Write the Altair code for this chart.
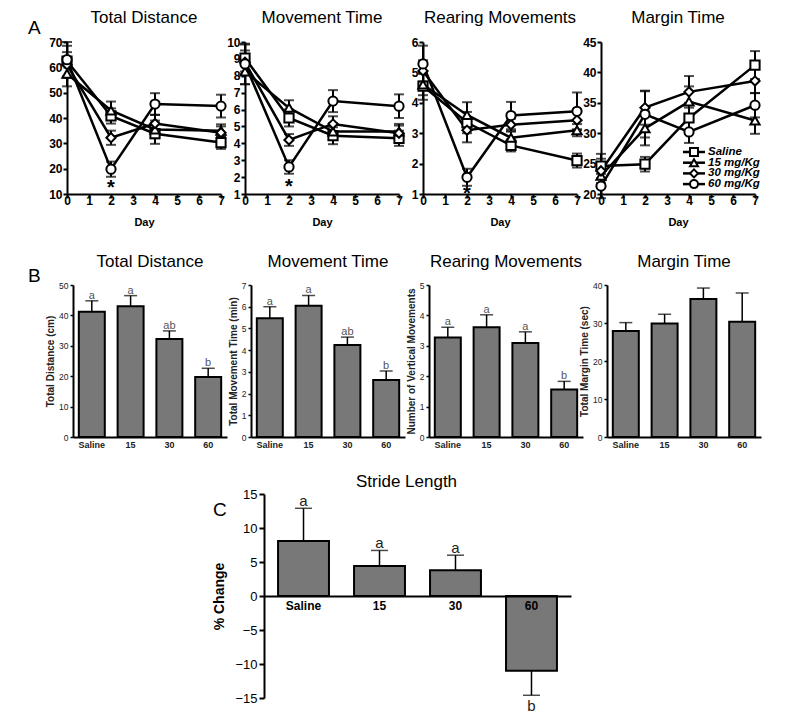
import altair as alt
import pandas as pd

FONT = "Liberation Sans, Arial, Helvetica, sans-serif"
BAR_FILL = "#787878"

# ---------------- Panel A data (mean and SEM by day) ----------------
days = [0, 2, 4, 7]
groups = ["Saline", "15 mg/Kg", "30 mg/Kg", "60 mg/Kg"]
group_shapes = ["square", "triangle-up", "diamond", "circle"]

td_saline = [62.5, 40.8, 33.8, 30.3]
td_15 = [57.5, 43.0, 35.5, 35.0]
td_30 = [61.0, 32.2, 37.8, 34.2]
td_60 = [63.0, 19.8, 45.5, 44.7]
td_sem_saline = [6.0, 3.0, 4.0, 2.5]
td_sem_15 = [5.0, 3.5, 3.5, 2.5]
td_sem_30 = [5.0, 2.8, 3.5, 2.5]
td_sem_60 = [7.0, 3.0, 4.3, 4.5]

mt_saline = [9.05, 5.5, 4.45, 4.3]
mt_15 = [8.25, 6.1, 4.7, 4.7]
mt_30 = [8.8, 4.2, 5.15, 4.6]
mt_60 = [8.7, 2.6, 6.5, 6.2]
mt_sem_saline = [0.8, 0.5, 0.5, 0.45]
mt_sem_15 = [0.75, 0.45, 0.5, 0.45]
mt_sem_30 = [0.7, 0.35, 0.45, 0.45]
mt_sem_60 = [1.2, 0.4, 0.65, 0.7]

rm_saline = [4.55, 3.35, 2.6, 2.1]
rm_15 = [4.6, 3.6, 2.85, 3.1]
rm_30 = [5.05, 3.1, 3.28, 3.43]
rm_60 = [5.28, 1.55, 3.58, 3.72]
rm_sem_saline = [0.45, 0.35, 0.2, 0.23]
rm_sem_15 = [0.35, 0.42, 0.2, 0.2]
rm_sem_30 = [0.35, 0.4, 0.2, 0.3]
rm_sem_60 = [0.6, 0.28, 0.45, 0.62]

mg_saline = [24.6, 24.9, 32.5, 41.2]
mg_15 = [23.0, 30.8, 35.2, 32.1]
mg_30 = [23.8, 34.2, 36.8, 38.6]
mg_60 = [21.3, 33.1, 30.2, 34.6]
mg_sem_saline = [2.0, 1.2, 2.5, 2.3]
mg_sem_15 = [2.0, 2.8, 2.5, 2.2]
mg_sem_30 = [2.0, 2.8, 2.6, 2.0]
mg_sem_60 = [2.0, 3.8, 1.8, 2.0]

star_day = [2]
td_star = [13.9]
mt_star = [1.67]
rm_star = [1.12]

# ---------------- Panel B data ----------------
doses = ["Saline", "15", "30", "60"]
b_td = [41.2, 43.0, 32.2, 19.7]
b_td_top = [44.8, 46.5, 34.9, 22.6]
b_td_let = ["a", "a", "ab", "b"]
b_mt = [5.47, 6.04, 4.24, 2.62]
b_mt_top = [6.0, 6.52, 4.6, 3.04]
b_mt_let = ["a", "a", "ab", "b"]
b_rm = [3.27, 3.61, 3.09, 1.56]
b_rm_top = [3.61, 4.02, 3.46, 1.83]
b_rm_let = ["a", "a", "a", "b"]
b_mg = [27.9, 29.9, 36.3, 30.3]
b_mg_top = [30.1, 32.3, 39.2, 37.9]
b_mg_let = ["", "", "", ""]

# ---------------- Panel C data ----------------
s_vals = [8.1, 4.4, 3.8, -11.0]
s_ends = [12.9, 6.7, 6.0, -14.6]
s_let = ["a", "a", "a", "b"]

# legend layout (pixels inside the Margin Time plot of row A)
LEG_Y0 = 110
LEG_DY = 10.7
LEG_LINE_X = (82, 104)
LEG_SYM_X = 93
LEG_TXT_X = 107


def title_params(text, offset, dx=0, dy=0):
    return alt.TitleParams(text=text, fontSize=17, font=FONT, fontWeight="normal",
                           color="black", anchor="middle", frame="group",
                           offset=offset, dx=dx, dy=dy)


def legend_layers():
    out = []
    for i, (g, shp) in enumerate(zip(groups, group_shapes)):
        yv = LEG_Y0 + i * LEG_DY
        one = alt.Chart(pd.DataFrame({"label": [g]}))
        out.append(one.mark_rule(color="black", strokeWidth=2.5).encode(
            x=alt.value(LEG_LINE_X[0]), x2=alt.value(LEG_LINE_X[1]), y=alt.value(yv)))
        out.append(one.mark_point(shape=shp, filled=True, fill="white", stroke="black",
                                  strokeWidth=2, size=64, opacity=1).encode(
            x=alt.value(LEG_SYM_X), y=alt.value(yv)))
        out.append(one.mark_text(align="left", baseline="middle", fontSize=11.5, fontWeight="bold",
                                 fontStyle="italic", font=FONT, color="black").encode(
            x=alt.value(LEG_TXT_X), y=alt.value(yv), text="label:N"))
    return out


def line_panel(title, means, sems, ydom, yvals, star_vals, legend=False):
    recs = []
    for g, ms, ss in zip(groups, means, sems):
        for d, m, s in zip(days, ms, ss):
            recs.append(dict(group=g, day=d, val=m, lo=m - s, hi=m + s))
    df = pd.DataFrame(recs)
    sdf = pd.DataFrame({"day": star_day[:len(star_vals)], "val": star_vals, "t": ["*"] * len(star_vals)})

    ax_x = alt.Axis(values=list(range(8)), format="d", domainColor="black", domainWidth=2,
                    tickColor="black", tickWidth=2, tickSize=4, labelPadding=-3,
                    labelFontSize=12, labelFontWeight="bold", labelFont=FONT, labelColor="black",
                    titleFont=FONT, titleFontSize=11, titleFontWeight="bold", titleColor="black",
                    titlePadding=10, grid=False, labelFlush=False, labelOverlap=False)
    ax_y = alt.Axis(values=yvals, domainColor="black", domainWidth=2, tickColor="black",
                    tickWidth=2, tickSize=4, labelPadding=1, labelFontSize=12,
                    labelFontWeight="bold", labelFont=FONT, labelColor="black", grid=False,
                    labelOverlap=False)

    def X(f):
        return alt.X(f"{f}:Q", title="Day", scale=alt.Scale(domain=[0, 7], nice=False), axis=ax_x)

    def Y(f):
        return alt.Y(f"{f}:Q", title=None, scale=alt.Scale(domain=ydom, nice=False, zero=False), axis=ax_y)

    base = alt.Chart(df)
    lines = base.mark_line(color="black", strokeWidth=2.5).encode(x=X("day"), y=Y("val"), detail="group:N")
    errs = base.mark_rule(color="black", strokeWidth=2).encode(x=X("day"), y=Y("lo"), y2="hi:Q")
    cap_hi = base.mark_tick(color="black", thickness=2, size=10, orient="horizontal").encode(x=X("day"), y=Y("hi"))
    cap_lo = base.mark_tick(color="black", thickness=2, size=10, orient="horizontal").encode(x=X("day"), y=Y("lo"))
    shape_enc = alt.Shape("group:N", scale=alt.Scale(domain=groups, range=group_shapes), legend=None)
    pts = base.mark_point(filled=True, fill="white", stroke="black", strokeWidth=2, size=85,
                          opacity=1).encode(x=X("day"), y=Y("val"), shape=shape_enc)
    layers = [lines, errs, cap_hi, cap_lo, pts]
    if len(star_vals):
        stars = alt.Chart(sdf).mark_text(fontSize=20, fontWeight="bold", font=FONT, color="black",
                                         baseline="middle", dy=4).encode(x=X("day"), y=Y("val"), text="t:N")
        layers.append(stars)
    if legend:
        layers += legend_layers()
    return alt.layer(*layers).properties(width=154, height=152, title=title_params(title, 9))


def bar_panel(title, ytitle, vals, tops, lets, ymax, ystep):
    df = pd.DataFrame({"dose": doses, "val": vals, "top": tops, "let": lets})
    ax_x = alt.Axis(labelAngle=0, ticks=False, domainColor="black", domainWidth=2,
                    labelFontSize=9, labelFontWeight="bold", labelFont=FONT, labelColor="#222",
                    labelPadding=3, grid=False)
    ax_y = alt.Axis(values=list(range(0, ymax + 1, ystep)), domainColor="black", domainWidth=2,
                    tickColor="black", tickWidth=1.5, tickSize=3, labelFontSize=8.5, labelFont=FONT,
                    labelColor="#222", labelPadding=2, titleFontSize=10, titleFontWeight="bold",
                    titleFont=FONT, titleColor="#222", titlePadding=3, grid=False)
    X = alt.X("dose:N", sort=doses, title=None,
              scale=alt.Scale(paddingInner=0.33, paddingOuter=0.15), axis=ax_x)

    def Y(f):
        return alt.Y(f"{f}:Q", title=ytitle, scale=alt.Scale(domain=[0, ymax], nice=False), axis=ax_y)

    base = alt.Chart(df)
    err = base.mark_rule(color="black", strokeWidth=1.5).encode(x=X, y=Y("val"), y2="top:Q")
    cap = base.mark_tick(color="black", thickness=1.5, size=13, orient="horizontal").encode(x=X, y=Y("top"))
    bars = base.mark_bar(fill=BAR_FILL, stroke="black", strokeWidth=2).encode(x=X, y=Y("val"))
    layers = [err, cap, bars]
    if any(lets):
        txt = base.mark_text(fontSize=11, font=FONT, color="#555", baseline="alphabetic", dy=-2).encode(
            x=X, y=Y("top"), text="let:N")
        layers.append(txt)
    return alt.layer(*layers).properties(width=154, height=152, title=title_params(title, 10))


def stride_panel():
    df = pd.DataFrame({"dose": doses, "val": s_vals, "end": s_ends, "let": s_let})
    ax_x = alt.Axis(labelAngle=0, ticks=False, domainColor="black", domainWidth=2, offset=-102,
                    labelFontSize=12, labelFontWeight="bold", labelFont=FONT, labelColor="black",
                    labelPadding=4, grid=False, zindex=1)
    ax_y = alt.Axis(values=list(range(-15, 16, 5)), domainColor="black", domainWidth=2,
                    tickColor="black", tickWidth=2, tickSize=5, labelFontSize=13, labelFont=FONT,
                    labelColor="black", labelPadding=2, titleFontSize=14, titleFontWeight="bold",
                    titleFont=FONT, titleColor="black", titlePadding=8, grid=False)
    X = alt.X("dose:N", sort=doses, title=None,
              scale=alt.Scale(paddingInner=0.33, paddingOuter=0.185), axis=ax_x)

    def Y(f):
        return alt.Y(f"{f}:Q", title="% Change", scale=alt.Scale(domain=[-15, 15], nice=False), axis=ax_y)

    base = alt.Chart(df)
    err = base.mark_rule(color="black", strokeWidth=1.5).encode(x=X, y=Y("val"), y2="end:Q")
    cap = base.mark_tick(color="black", thickness=1.5, size=17, orient="horizontal").encode(x=X, y=Y("end"))
    bars = base.mark_bar(fill=BAR_FILL, stroke="black", strokeWidth=2).encode(x=X, y=Y("val"))
    up = base.transform_filter("datum.val >= 0").mark_text(
        fontSize=15, font=FONT, color="#222", baseline="alphabetic", dy=-2).encode(x=X, y=Y("end"), text="let:N")
    dn = base.transform_filter("datum.val < 0").mark_text(
        fontSize=15, font=FONT, color="#222", baseline="top", dy=4).encode(x=X, y=Y("end"), text="let:N")
    return alt.layer(err, cap, bars, up, dn).properties(
        width=307, height=204, title=title_params("Stride Length", 0, dx=-11, dy=3))


def spacer(letter, w, h, lx, ly):
    return alt.Chart(pd.DataFrame({"t": [letter]})).mark_text(
        align="left", baseline="alphabetic", fontSize=19, font=FONT, color="black").encode(
        text="t:N", x=alt.value(lx), y=alt.value(ly)).properties(width=w, height=h)


rowA = alt.hconcat(
    spacer("A", 15, 201, 0, -8),
    line_panel("Total Distance", [td_saline, td_15, td_30, td_60],
               [td_sem_saline, td_sem_15, td_sem_30, td_sem_60], [10, 70], list(range(10, 71, 10)), td_star),
    line_panel("Movement Time", [mt_saline, mt_15, mt_30, mt_60],
               [mt_sem_saline, mt_sem_15, mt_sem_30, mt_sem_60], [1, 10], list(range(1, 11)), mt_star),
    line_panel("Rearing Movements", [rm_saline, rm_15, rm_30, rm_60],
               [rm_sem_saline, rm_sem_15, rm_sem_30, rm_sem_60], [1, 6], list(range(1, 7)), rm_star),
    line_panel("Margin Time", [mg_saline, mg_15, mg_30, mg_60],
               [mg_sem_saline, mg_sem_15, mg_sem_30, mg_sem_60], [20, 45], list(range(20, 46, 5)), [],
               legend=True),
    spacing=24, bounds="flush")

rowB = alt.hconcat(
    spacer("B", 21, 178, 0, -3),
    bar_panel("Total Distance", "Total Distance (cm)", b_td, b_td_top, b_td_let, 50, 10),
    bar_panel("Movement Time", "Total Movement Time (min)", b_mt, b_mt_top, b_mt_let, 7, 1),
    bar_panel("Rearing Movements", "Number of Vertical Movements", b_rm, b_rm_top, b_rm_let, 5, 1),
    bar_panel("Margin Time", "Total Margin Time (sec)", b_mg, b_mg_top, b_mg_let, 40, 10),
    spacing=24, bounds="flush")

rowC = alt.hconcat(
    spacer("C", 236, 204, 185, 22),
    stride_panel(),
    spacing=0, bounds="flush")

chart = alt.vconcat(rowA, rowB, rowC, spacing=10).properties(
    padding={"left": 20, "top": 1, "right": 5, "bottom": 5},
    background="white",
).configure_view(strokeWidth=0)

chart.save("out.html", embed_options={"renderer": "svg", "actions": False})
